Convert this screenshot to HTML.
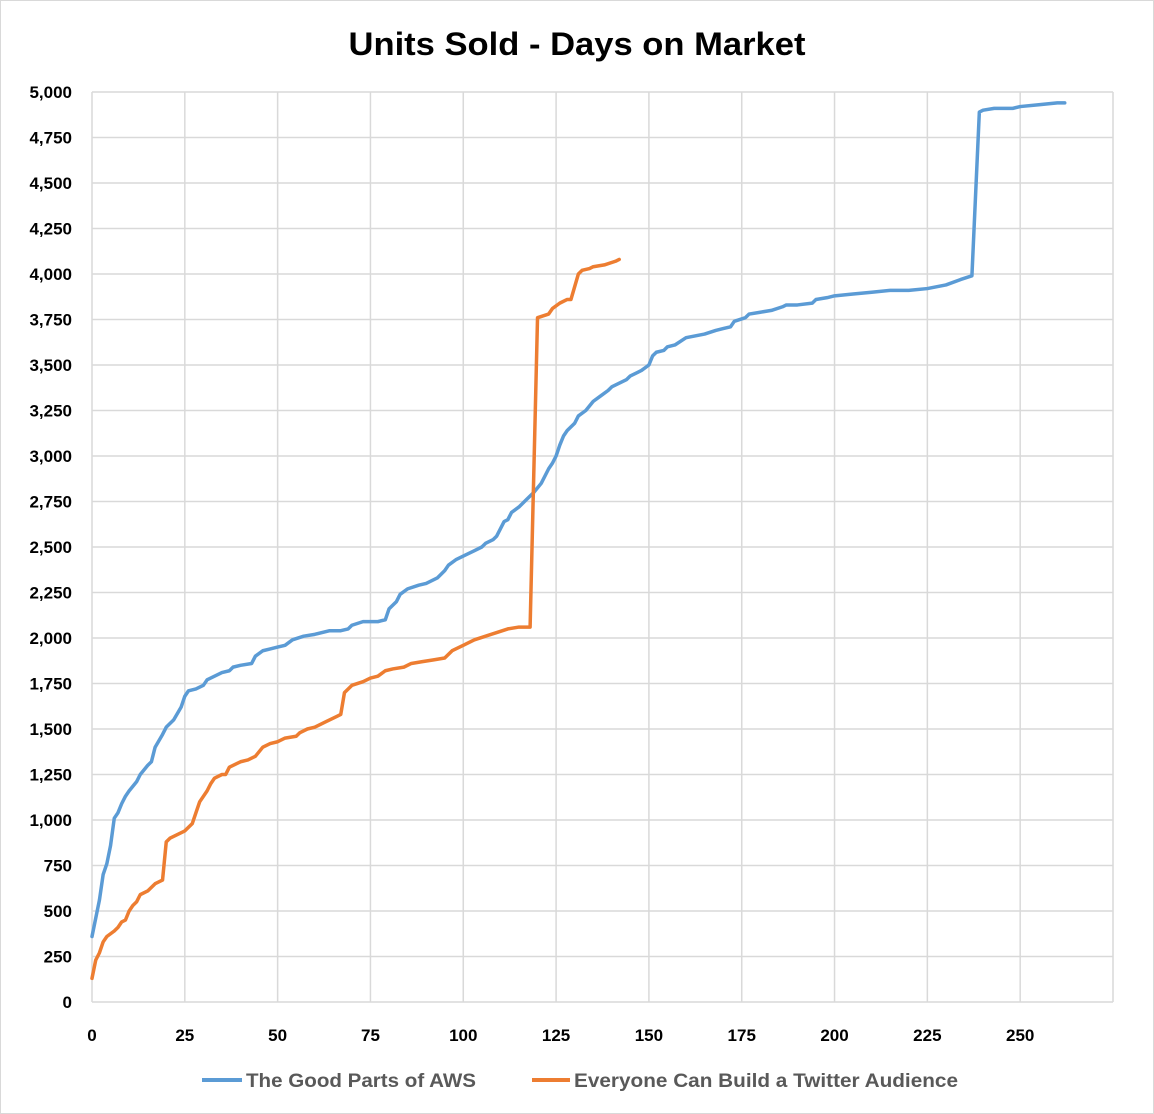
<!DOCTYPE html>
<html><head><meta charset="utf-8"><style>
body{margin:0;background:#fff;}
svg{display:block;font-family:"Liberation Sans",sans-serif;}
</style></head><body>
<svg id="chart" width="1154" height="1114">
<rect x="0.5" y="0.5" width="1153" height="1113" fill="#fff" stroke="#d9d9d9"/>
<text x="577" y="55" text-anchor="middle" font-size="32" font-weight="bold" fill="#000" textLength="457" lengthAdjust="spacingAndGlyphs">Units Sold - Days on Market</text>
<g id="grid"></g><g id="axes"></g><g id="series"></g>
<g>
<g>
<line x1="202" y1="1080" x2="242" y2="1080" stroke="#5b9bd5" stroke-width="4"/>
<text x="246" y="1087" font-size="19" font-weight="bold" fill="#595959" textLength="230" lengthAdjust="spacingAndGlyphs">The Good Parts of AWS</text>
</g>
<g>
<line x1="532" y1="1080" x2="570" y2="1080" stroke="#ed7d31" stroke-width="4"/>
<text x="574" y="1087" font-size="19" font-weight="bold" fill="#595959" textLength="384" lengthAdjust="spacingAndGlyphs">Everyone Can Build a Twitter Audience</text>
</g>
</g>
</svg>
<script>
const xTicks=[0,25,50,75,100,125,150,175,200,225,250,275];
const yTicks=[0,250,500,750,1000,1250,1500,1750,2000,2250,2500,2750,3000,3250,3500,3750,4000,4250,4500,4750,5000];
const awsDays=[0,2,3,4,5,6,7,8,9,10,12,13,15,16,17,19,20,22,24,25,26,28,30,31,33,35,37,38,40,43,44,46,48,50,52,54,57,60,64,67,69,70,73,77,79,80,82,83,85,88,90,93,95,96,98,100,103,105,106,108,109,110,111,112,113,115,117,119,121,123,124,125,126,127,128,130,131,133,135,137,139,140,142,144,145,147,148,150,151,152,154,155,157,160,165,168,170,172,173,176,177,180,183,186,187,190,194,195,198,200,205,210,215,220,225,230,234,237,239,240,243,248,250,255,260,262];
const awsUnits=[360,560,700,760,860,1010,1040,1090,1130,1160,1210,1250,1300,1320,1400,1470,1510,1550,1620,1680,1710,1720,1740,1770,1790,1810,1820,1840,1850,1860,1900,1930,1940,1950,1960,1990,2010,2020,2040,2040,2050,2070,2090,2090,2100,2160,2200,2240,2270,2290,2300,2330,2370,2400,2430,2450,2480,2500,2520,2540,2560,2600,2640,2650,2690,2720,2760,2800,2850,2930,2960,3000,3060,3110,3140,3180,3220,3250,3300,3330,3360,3380,3400,3420,3440,3460,3470,3500,3550,3570,3580,3600,3610,3650,3670,3690,3700,3710,3740,3760,3780,3790,3800,3820,3830,3830,3840,3860,3870,3880,3890,3900,3910,3910,3920,3940,3970,3990,4890,4900,4910,4910,4920,4930,4940,4940];
const twDays=[0,1,2,3,4,6,7,8,9,10,11,12,13,15,16,17,19,20,21,23,25,27,28,29,31,32,33,35,36,37,39,40,42,44,46,48,50,52,55,56,58,60,63,66,67,68,70,73,75,77,79,81,84,86,89,92,95,97,100,103,106,109,112,115,118,120,123,124,126,128,129,131,132,134,135,138,141,142];
const twUnits=[130,230,270,330,360,390,410,440,450,500,530,550,590,610,630,650,670,880,900,920,940,980,1040,1100,1160,1200,1230,1250,1250,1290,1310,1320,1330,1350,1400,1420,1430,1450,1460,1480,1500,1510,1540,1570,1580,1700,1740,1760,1780,1790,1820,1830,1840,1860,1870,1880,1890,1930,1960,1990,2010,2030,2050,2060,2060,3760,3780,3810,3840,3860,3860,4000,4020,4030,4040,4050,4070,4080];
const X0=92,X1=1113,Y0=1002,Y1=92;
const xs=d=>X0+(X1-X0)*d/275;
const ys=v=>Y0-(Y0-Y1)*v/5000;
const NS='http://www.w3.org/2000/svg';
const grid=document.getElementById('grid'),axes=document.getElementById('axes'),series=document.getElementById('series');
function mk(t,a,p){const e=document.createElementNS(NS,t);for(const k in a)e.setAttribute(k,a[k]);p.appendChild(e);return e;}
yTicks.forEach(v=>{
 const l=mk('line',{x1:X0,x2:X1,y1:ys(v),y2:ys(v),stroke:'#d9d9d9','stroke-width':1.5},grid);
 
 
 const t=mk('text',{x:72,y:ys(v)+6,'text-anchor':'end','font-size':17,'font-weight':'bold',fill:'#000'},axes);
 t.textContent=v.toLocaleString('en-US');
 
 
});
xTicks.forEach(d=>{
 const l=mk('line',{x1:xs(d),x2:xs(d),y1:Y1,y2:Y0,stroke:'#d9d9d9','stroke-width':1.5},grid);
 
 
 if(d<275){
 const t=mk('text',{x:xs(d),y:1041,'text-anchor':'middle','font-size':17,'font-weight':'bold',fill:'#000'},axes);
 t.textContent=d;
 
 }
});
function line(days,vals,color,name){
 const p=mk('polyline',{points:days.map((d,i)=>xs(d)+','+ys(vals[i])).join(' '),fill:'none',stroke:color,'stroke-width':3.5,'stroke-linejoin':'round','stroke-linecap':'round'},series);
 
 
}
line(awsDays,awsUnits,'#5b9bd5','aws-series-line');
line(twDays,twUnits,'#ed7d31','twitter-series-line');
</script>
</body></html>
